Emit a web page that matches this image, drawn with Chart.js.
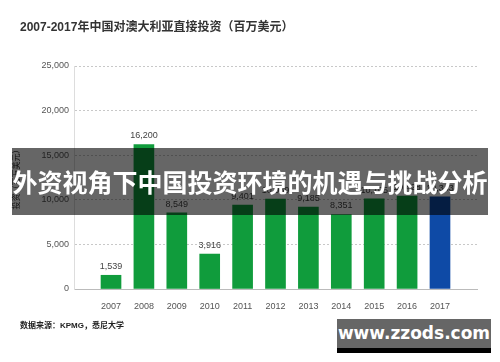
<!DOCTYPE html>
<html>
<head>
<meta charset="utf-8">
<script src="https://cdn.jsdelivr.net/npm/chart.js@4/dist/chart.umd.min.js"></script>
<style>
  html, body { margin: 0; padding: 0; background: #fff; }
  #wrap { position: relative; width: 500px; height: 362px; overflow: hidden;
          font-family: "Liberation Sans", "Noto Sans CJK SC", sans-serif; }
  #chart { position: absolute; left: 0; top: 0; }
  #title { position: absolute; left: 20px; top: 17px; font-size: 12px; font-weight: bold; color: #333; white-space: nowrap; }
  #source { position: absolute; left: 20px; top: 319px; font-size: 8px; font-weight: bold; color: #222; white-space: nowrap; }
  #banner { position: absolute; left: 12px; top: 148px; width: 476px; height: 67px;
            background: rgba(0,0,0,0.6); color: #fff; font-size: 25px; font-weight: bold;
            line-height: 67px; text-align: center; white-space: nowrap;
            font-family: "Noto Sans CJK SC", sans-serif; }
  #mark { position: absolute; left: 337px; top: 319px; width: 154px; height: 29px;
          background: #666; border-bottom: 5px solid #000; color: #fff; font-size: 17px;
          font-weight: bold; line-height: 29px; text-align: center; font-family: "DejaVu Sans", sans-serif; }
</style>
</head>
<body>
<div id="wrap">
  <canvas id="chart" width="500" height="362"></canvas>
  <div id="title">2007-2017年中国对澳大利亚直接投资（百万美元）</div>
  <div id="source">数据来源：KPMG，悉尼大学</div>
  <div id="banner">外资视角下中国投资环境的机遇与挑战分析</div>
  <div id="mark">www.zzods.com</div>
</div>
<script>
// Chinese direct investment in Australia, US$ million.
const years = ['2007', '2008', '2009', '2010', '2011', '2012', '2013', '2014', '2015', '2016', '2017'];
const invest = [1539, 16200, 8549, 3916, 9401, 10069, 9185, 8351, 10105, 10428, 10343];
const yTicks = [0, 5000, 10000, 15000, 20000, 25000];

const GREEN = '#109c3c';
const BLUE = '#0e4aa6';
const FONT = '"Liberation Sans", "Noto Sans CJK SC", sans-serif';

const fmt = v => v.toLocaleString('en-US');

// Value labels above each bar.
const valueLabels = {
  id: 'valueLabels',
  afterDatasetsDraw(chart) {
    const ctx = chart.ctx;
    const meta = chart.getDatasetMeta(0);
    ctx.save();
    ctx.font = '9px ' + FONT;
    ctx.fillStyle = '#444';
    ctx.textAlign = 'center';
    ctx.textBaseline = 'bottom';
    meta.data.forEach((bar, i) => ctx.fillText(fmt(invest[i]), bar.x, bar.y - 4));
    ctx.restore();
  },
};

new Chart(document.getElementById('chart'), {
  type: 'bar',
  data: {
    datasets: [{
      data: invest.map((v, i) => ({ x: i, y: v })),
      backgroundColor: years.map(y => y === '2017' ? BLUE : GREEN),
      barThickness: 20,
    }],
  },
  options: {
    responsive: false,
    animation: false,
    layout: { padding: { top: 66, right: 23, bottom: 43, left: 0 } },
    plugins: { legend: { display: false }, tooltip: { enabled: false } },
    scales: {
      x: {
        type: 'linear',
        offset: false,
        min: -1.125,
        max: 11.125,
        afterBuildTicks: s => { s.ticks = years.map((_, i) => ({ value: i })); },
        afterFit: s => { s.height = 30; s.paddingLeft = 0; s.paddingRight = 0; },
        grid: { display: false },
        border: { display: true, color: '#bbb', width: 1 },
        ticks: {
          padding: 4,
          color: '#555',
          font: { size: 9, family: FONT },
          maxRotation: 0,
          autoSkip: false,
          callback: v => years[v],
        },
      },
      y: {
        min: 0,
        max: 25000,
        afterBuildTicks: s => { s.ticks = yTicks.map(v => ({ value: v })); },
        afterFit: s => { s.width = 74; },
        grid: { color: '#c8c8c8', drawTicks: false },
        border: { display: true, color: '#ddd', dash: [2, 2] },
        ticks: {
          padding: 5,
          color: '#555',
          font: { size: 9, family: FONT },
          callback: v => fmt(v),
        },
        title: {
          display: true,
          text: '投资（百万美元）',
          color: '#333',
          font: { size: 8, family: FONT },
          padding: { top: 12, bottom: 0 },
        },
      },
    },
  },
  plugins: [valueLabels],
});
</script>
</body>
</html>
